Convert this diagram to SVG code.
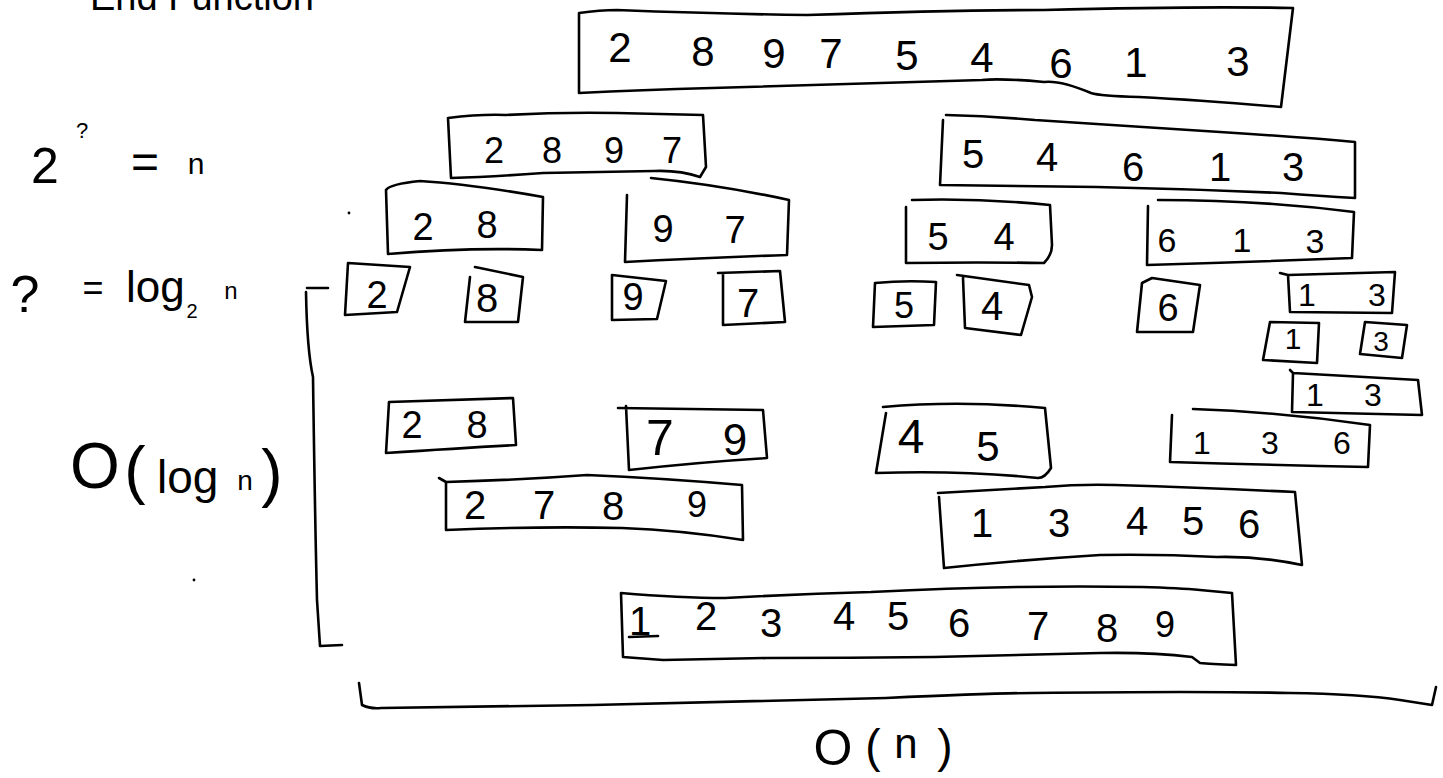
<svg xmlns="http://www.w3.org/2000/svg" width="1443" height="778" viewBox="0 0 1443 778">
<style>
.b{fill:none;stroke:#000;stroke-width:2.6;stroke-linejoin:round;stroke-linecap:round}
.d{font-family:"Liberation Sans",Arial,sans-serif;fill:#000;text-anchor:middle}
.t{font-family:"Liberation Sans",Arial,sans-serif;fill:#000}
</style>
<rect width="1443" height="778" fill="#fff"/>
<g id="notes">
<text class="t" x="90" y="10" font-size="38">End Function</text>
<text class="d" x="45" y="183" font-size="50">2</text>
<text class="d" x="82" y="138" font-size="22">?</text>
<text class="d" x="145" y="178" font-size="48">=</text>
<text class="d" x="196" y="174" font-size="30">n</text>
<circle cx="349" cy="213" r="1.4"/>
<text class="d" x="25" y="312" font-size="52">?</text>
<text class="d" x="93" y="300" font-size="36">=</text>
<text class="t" x="126" y="302" font-size="44">log</text>
<text class="d" x="192" y="318" font-size="20">2</text>
<text class="d" x="231" y="299" font-size="24">n</text>
<text class="d" x="95" y="488" font-size="64">O</text>
<text class="d" x="135" y="492" font-size="64">(</text>
<text class="t" x="157" y="493" font-size="46">log</text>
<text class="d" x="245" y="490" font-size="28">n</text>
<text class="d" x="272" y="495" font-size="64">)</text>
<circle cx="194" cy="580" r="1.4"/>
<text class="d" x="833" y="765" font-size="50">O</text>
<text class="d" x="873" y="762" font-size="46">(</text>
<text class="d" x="906" y="758" font-size="42">n</text>
<text class="d" x="945" y="762" font-size="46">)</text>
</g>
<g id="connectors">
<path class="b" d="M307,288 L328,288 M306,292 Q307,350 313,377 Q315,520 317,600 L320,646 L342,645"/>
<path class="b" d="M359,683 L362,705 Q370,709 381,708 Q480,707 593,705 Q800,700 886,698 Q1000,693 1033,693 Q1200,691 1290,693 Q1360,694 1400,700 L1432,705 L1436,687"/>
</g>
<g id="n0">
<path class="b" d="M579,13 Q600,10 617,10 Q720,14 807,15 Q950,10 1044,10 Q1200,6 1293,8 L1281,107 Q1200,100 1139,97 Q1100,96 1091,93 Q1060,80 1044,82 Q1000,78 982,80 Q850,84 712,88 Q640,90 579,93 Z"/>
<text class="d" x="620" y="62" font-size="42">2</text>
<text class="d" x="703" y="66" font-size="42">8</text>
<text class="d" x="774" y="68" font-size="42">9</text>
<text class="d" x="831" y="68" font-size="42">7</text>
<text class="d" x="907" y="70" font-size="42">5</text>
<text class="d" x="982" y="72" font-size="42">4</text>
<text class="d" x="1061" y="78" font-size="42">6</text>
<text class="d" x="1136" y="77" font-size="42">1</text>
<text class="d" x="1238" y="76" font-size="42">3</text>
</g>
<g id="n1L">
<path class="b" d="M448,118 Q480,114 506,115 Q560,112 617,113 L703,115 L706,167 L700,177 Q680,170 654,171 Q600,172 543,173 Q490,177 451,178 Z"/>
<text class="d" x="494" y="163" font-size="36">2</text>
<text class="d" x="552" y="163" font-size="36">8</text>
<text class="d" x="614" y="163" font-size="36">9</text>
<text class="d" x="672" y="163" font-size="36">7</text>
</g>
<g id="n1R">
<path class="b" d="M946,115 Q990,116 1035,120 Q1130,126 1220,132 Q1300,137 1355,142 L1355,198 Q1320,196 1281,193 Q1190,189 1097,187 L940,185 L943,120"/>
<text class="d" x="973" y="168" font-size="40">5</text>
<text class="d" x="1047" y="171" font-size="40">4</text>
<text class="d" x="1133" y="181" font-size="40">6</text>
<text class="d" x="1220" y="181" font-size="40">1</text>
<text class="d" x="1293" y="181" font-size="40">3</text>
</g>
<g id="n2a">
<path class="b" d="M386,190 Q390,184 420,181 Q470,184 543,197 L542,250 Q470,247 388,254 Z"/>
<text class="d" x="423" y="240" font-size="38">2</text>
<text class="d" x="487" y="238" font-size="38">8</text>
</g>
<g id="n2b">
<path class="b" d="M627,195 L625,262 Q700,258 787,255 L789,200 Q720,185 651,178"/>
<text class="d" x="663" y="242" font-size="38">9</text>
<text class="d" x="735" y="243" font-size="38">7</text>
</g>
<g id="n2c">
<path class="b" d="M906,207 L906,263 Q980,262 1044,263 Q1052,255 1052,245 L1050,205 Q980,198 912,200"/>
<text class="d" x="938" y="250" font-size="38">5</text>
<text class="d" x="1004" y="250" font-size="38">4</text>
</g>
<g id="n2d">
<path class="b" d="M1148,206 L1147,265 Q1250,262 1352,258 L1354,212 Q1260,200 1158,200"/>
<text class="d" x="1167" y="252" font-size="34">6</text>
<text class="d" x="1242" y="252" font-size="34">1</text>
<text class="d" x="1315" y="253" font-size="34">3</text>
</g>
<g id="n3a">
<path class="b" d="M348,263 L410,267 L397,312 L345,315 Z"/>
<text class="d" x="377" y="308" font-size="38">2</text>
</g>
<g id="n3b">
<path class="b" d="M475,267 L523,277 L518,322 L465,322 L470,277"/>
<text class="d" x="487" y="312" font-size="40">8</text>
</g>
<g id="n3c">
<path class="b" d="M612,275 L666,281 L657,319 L612,320 Z"/>
<text class="d" x="633" y="310" font-size="38">9</text>
</g>
<g id="n3d">
<path class="b" d="M718,273 L780,271 L785,322 L723,325 L723,273"/>
<text class="d" x="748" y="317" font-size="40">7</text>
</g>
<g id="n3e">
<path class="b" d="M875,283 Q905,280 936,282 L934,325 Q900,326 873,327 Z"/>
<text class="d" x="904" y="318" font-size="36">5</text>
</g>
<g id="n3f">
<path class="b" d="M957,275 L1029,285 L1032,297 L1021,335 L965,328 L963,278"/>
<text class="d" x="992" y="320" font-size="40">4</text>
</g>
<g id="n3g">
<path class="b" d="M1142,283 L1152,278 L1200,285 L1193,332 L1137,332 Z"/>
<text class="d" x="1168" y="321" font-size="38">6</text>
</g>
<g id="n3h">
<path class="b" d="M1280,273 L1288,275 L1395,272 L1392,313 L1290,312 L1288,275"/>
<text class="d" x="1307" y="306" font-size="32">1</text>
<text class="d" x="1377" y="306" font-size="32">3</text>
</g>
<g id="n3i">
<path class="b" d="M1270,322 L1319,323 L1317,363 L1263,360 Z"/>
<text class="d" x="1293" y="349" font-size="30">1</text>
</g>
<g id="n3j">
<path class="b" d="M1365,322 L1407,325 L1402,358 L1360,354 Z"/>
<text class="d" x="1381" y="351" font-size="28">3</text>
</g>
<g id="n3k">
<path class="b" d="M1290,370 L1293,373 L1418,380 L1422,415 L1292,412 L1293,373"/>
<text class="d" x="1315" y="406" font-size="32">1</text>
<text class="d" x="1373" y="406" font-size="32">3</text>
</g>
<g id="n4a">
<path class="b" d="M389,402 L513,398 L516,445 Q460,448 386,453 Z"/>
<text class="d" x="412" y="438" font-size="38">2</text>
<text class="d" x="477" y="438" font-size="38">8</text>
</g>
<g id="n4b">
<path class="b" d="M618,408 L763,410 L767,458 Q700,462 629,470 L626,406"/>
<text class="d" x="660" y="455" font-size="50">7</text>
<text class="d" x="735" y="455" font-size="44">9</text>
</g>
<g id="n4c">
<path class="b" d="M883,407 Q960,400 1045,408 L1051,468 Q1045,478 1038,478 Q960,470 876,473 L886,413"/>
<text class="d" x="911" y="453" font-size="48">4</text>
<text class="d" x="988" y="461" font-size="42">5</text>
</g>
<g id="n4d">
<path class="b" d="M1193,409 Q1280,412 1370,425 L1368,467 Q1270,465 1170,462 L1172,415"/>
<text class="d" x="1202" y="454" font-size="32">1</text>
<text class="d" x="1270" y="454" font-size="32">3</text>
<text class="d" x="1342" y="454" font-size="32">6</text>
</g>
<g id="n5a">
<path class="b" d="M439,478 L446,482 Q520,480 587,475 Q660,478 742,485 L743,540 Q680,530 622,528 Q540,526 446,530 L446,482"/>
<text class="d" x="475" y="519" font-size="40">2</text>
<text class="d" x="544" y="519" font-size="40">7</text>
<text class="d" x="613" y="520" font-size="40">8</text>
<text class="d" x="697" y="517" font-size="36">9</text>
</g>
<g id="n5b">
<path class="b" d="M938,493 Q990,490 1045,487 Q1080,484 1115,485 Q1210,488 1295,492 L1302,565 Q1260,556 1217,557 Q1160,554 1100,555 Q1020,560 944,568 L939,497"/>
<text class="d" x="982" y="537" font-size="40">1</text>
<text class="d" x="1059" y="537" font-size="40">3</text>
<text class="d" x="1137" y="535" font-size="40">4</text>
<text class="d" x="1193" y="535" font-size="40">5</text>
<text class="d" x="1249" y="538" font-size="40">6</text>
</g>
<g id="n6">
<path class="b" d="M621,593 Q680,598 725,598 Q800,594 871,592 Q950,588 1017,587 Q1080,586 1142,587 Q1180,588 1200,590 L1232,593 L1236,665 Q1210,664 1200,663 L1192,657 Q1150,652 1100,653 Q1010,655 934,657 Q850,658 767,658 Q710,659 663,660 L623,657 Z"/>
<text class="d" x="640" y="635" font-size="40">1</text>
<path class="b" d="M629,637 L658,636"/>
<text class="d" x="706" y="630" font-size="40">2</text>
<text class="d" x="771" y="637" font-size="40">3</text>
<text class="d" x="844" y="630" font-size="40">4</text>
<text class="d" x="898" y="630" font-size="40">5</text>
<text class="d" x="959" y="637" font-size="40">6</text>
<text class="d" x="1038" y="640" font-size="40">7</text>
<text class="d" x="1107" y="642" font-size="40">8</text>
<text class="d" x="1165" y="637" font-size="36">9</text>
</g>
</svg>
